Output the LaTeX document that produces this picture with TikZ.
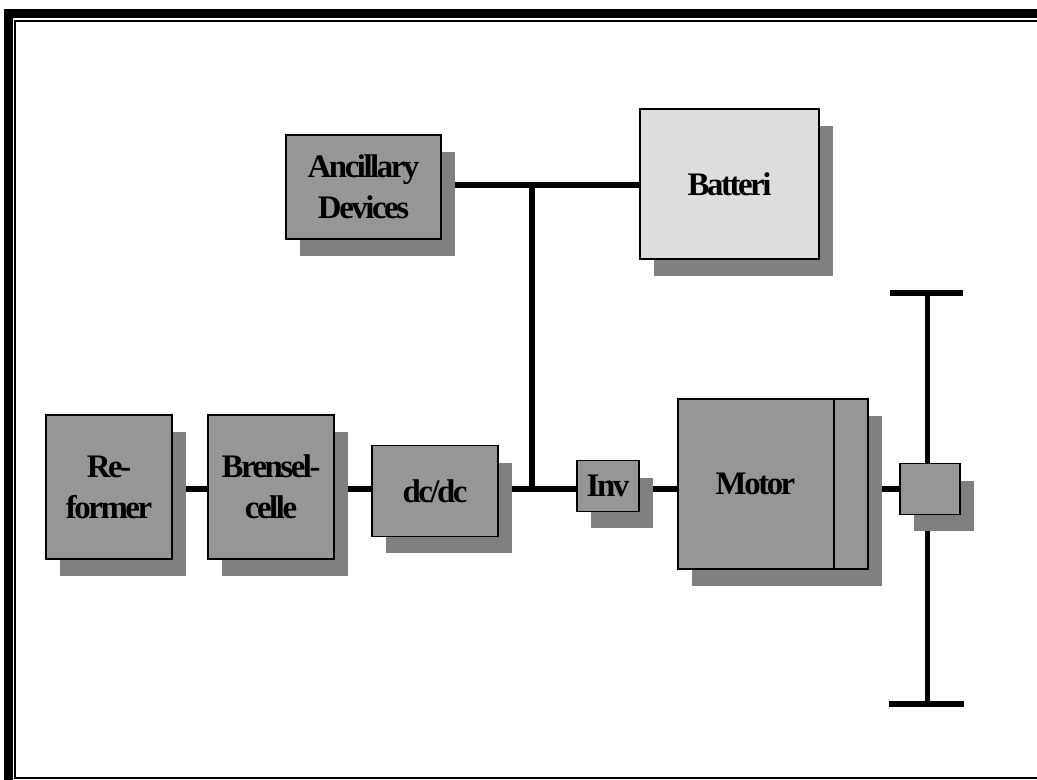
\documentclass[tikz,border=0pt]{standalone}
\usepackage{fontspec}
\usepackage{xcolor}
\newfontfamily\boxfont[LetterSpace=-7.5]{Liberation Serif}
\usetikzlibrary{shadows, backgrounds, calc}

\definecolor{boxgray}{HTML}{969696}
\definecolor{shadegray}{HTML}{808080}
\definecolor{batgray}{HTML}{DDDDDD}

\tikzset{
  lbl/.style={font=\boxfont\bfseries\fontsize{18.7}{23.3}\selectfont, align=center},
  unit/.style={lbl, draw, line width=0.03cm, fill=boxgray, inner sep=0pt,
    drop shadow={shadow xshift=0.28cm, shadow yshift=-0.34cm, opacity=1, fill=shadegray}},
  bus/.style={line width=0.12cm},
}

\begin{document}
\begin{tikzpicture}[x=0.02cm, y=-0.02cm]
            \useasboundingbox (0,0) rectangle (1037,780);
            % frame
            \fill (4,9) rectangle (1037,18);
            \fill (4,9) rectangle (13,780);
            \draw[line width=0.04cm] (1037,21) -- (15,21) -- (15,778) -- (1037,778);

            \node [unit, minimum width=2.52cm, minimum height=2.88cm] (ref) at (109,487) {Re-\\former};
            \node [unit, minimum width=2.52cm, minimum height=2.88cm] (bren) at (271,487) {Brensel-\\celle};
            \node [unit, minimum width=2.52cm, minimum height=1.82cm] (dcdc) at (435,491) {dc/dc};
            \node [unit, minimum width=1.24cm, minimum height=1.02cm] (inv) at (608,486) {Inv};
            \node [unit, minimum width=3.8cm, minimum height=3.4cm] (motor) at (773,484) {};
            \node [lbl] (motorlbl) at ($(motor.center)+(-17.5,0)$) {Motor};
            \draw[line width=0.04cm] ($(motor.north east)+(-35,0)$) -- ($(motor.south east)+(-35,0)$);
            \node [unit, minimum width=1.2cm, minimum height=1.02cm] (gear) at (930,489) {};
            \node [unit, minimum width=3.1cm, minimum height=2.08cm] (anc) at (363.5,187) {Ancillary\\Devices};
            \node [unit, fill=batgray, minimum width=3.58cm, minimum height=3cm] (bat) at (729.5,184) {Batteri};

            \coordinate (jtop) at (532,185);
            \coordinate (bus) at (532,489);
            \coordinate (axtop) at (927,293);
            \coordinate (axbot) at (927,704);

            \begin{scope}[on background layer]
            \draw[bus] (anc.east |- jtop) -- (bat.west |- jtop);
            \draw[bus] (jtop) -- (bus);
            \draw[bus] (ref.east |- bus) -- (bren.west |- bus);
            \draw[bus] (bren.east |- bus) -- (dcdc.west |- bus);
            \draw[bus] (dcdc.east |- bus) -- (inv.west |- bus);
            \draw[bus] (inv.east |- bus) -- (motor.west |- bus);
            \draw[bus] (motor.east |- bus) -- (gear.west |- bus);
            \draw[line width=0.1cm] (axtop) -- (axbot);
            \draw[bus] ($(axtop)+(-37,0)$) -- ($(axtop)+(36,0)$);
            \draw[bus] ($(axbot)+(-38,0)$) -- ($(axbot)+(37,0)$);
            \end{scope}
        \end{tikzpicture}
\end{document}
